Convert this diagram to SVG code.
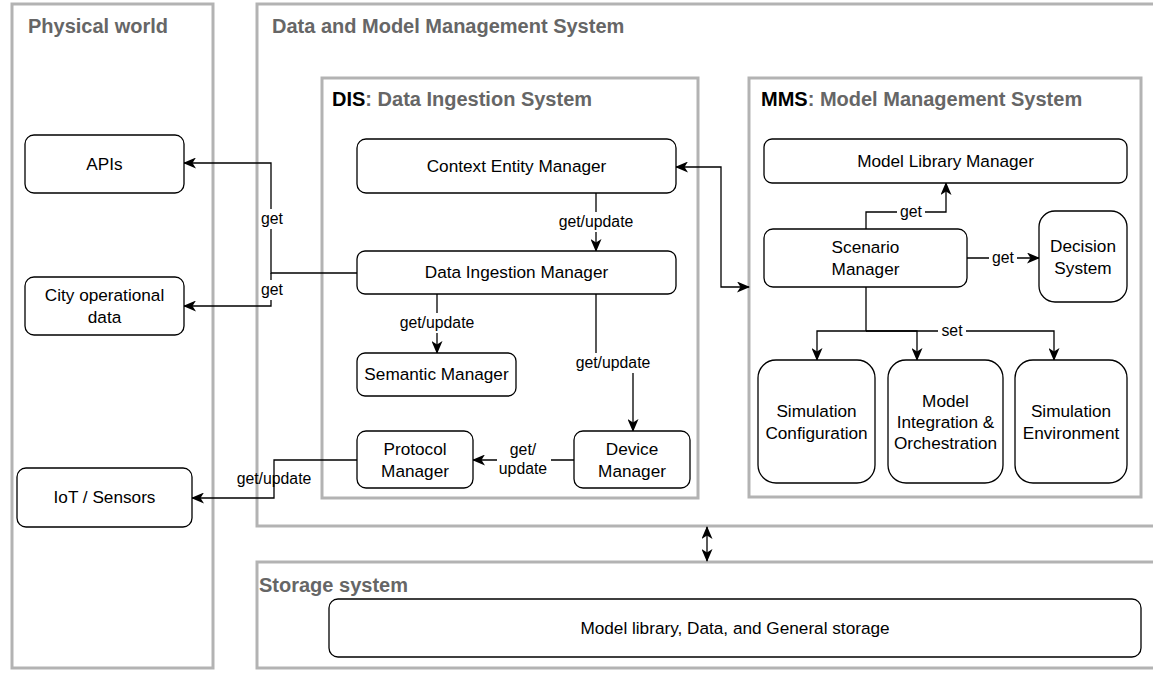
<svg xmlns="http://www.w3.org/2000/svg" width="1153" height="675" viewBox="0 0 1153 675">
<style>
.grp{fill:none;stroke:#B3B3B3;stroke-width:3}
.title{font-family:"Liberation Sans",Arial,sans-serif;font-size:20px;font-weight:bold;fill:#666666}
.node{fill:#fff;stroke:#000;stroke-width:1.3}
.t{font-family:"Liberation Sans",Arial,sans-serif;font-size:17.2px;fill:#000;text-anchor:middle}
.lbl{font-family:"Liberation Sans",Arial,sans-serif;font-size:15.8px;fill:#000;text-anchor:middle}
.lb{fill:#fff}
.edge{fill:none;stroke:#000;stroke-width:1.3}
</style>
<defs>
<marker id="arr" viewBox="0 0 13 11" refX="12" refY="5.5" markerWidth="13" markerHeight="11" markerUnits="userSpaceOnUse" orient="auto-start-reverse">
<path d="M0,0 L13,5.5 L0,11 L3.5,5.5 z" fill="#000"/>
</marker>
</defs>
<rect width="1153" height="675" fill="#fff"/>

<g id="group-physical">
<rect class="grp" x="12" y="4" width="201" height="664"/>
<text class="title" x="28" y="33">Physical world</text>
</g>
<g id="group-dmms">
<rect class="grp" x="257" y="4" width="900" height="522"/>
<text class="title" x="272" y="33">Data and Model Management System</text>
</g>
<g id="group-dis">
<rect class="grp" x="322" y="78" width="376" height="420"/>
<text class="title" x="332" y="106"><tspan fill="#000">DIS</tspan>: Data Ingestion System</text>
</g>
<g id="group-mms">
<rect class="grp" x="749" y="78" width="392" height="419"/>
<text class="title" x="761" y="106"><tspan fill="#000">MMS</tspan>: Model Management System</text>
</g>
<g id="group-storage">
<rect class="grp" x="257" y="562" width="900" height="106"/>
<text class="title" x="259" y="592">Storage system</text>
</g>

<g id="connectors">
<path class="edge" d="M357,273 H271 V163 H184" marker-end="url(#arr)"/>
<path class="edge" d="M271,273 V306 H184" marker-end="url(#arr)"/>
<path class="edge" d="M357,460 H274 V498 H192" marker-end="url(#arr)"/>
<path class="edge" d="M596,193 V251" marker-end="url(#arr)"/>
<path class="edge" d="M437,294 V353" marker-end="url(#arr)"/>
<path class="edge" d="M596,294 V363 H633 V431" marker-end="url(#arr)"/>
<path class="edge" d="M574,460 H473" marker-end="url(#arr)"/>
<path class="edge" d="M676,167 H721 V287 H749" marker-start="url(#arr)" marker-end="url(#arr)"/>
<path class="edge" d="M866,229 V212 H946 V183" marker-end="url(#arr)"/>
<path class="edge" d="M967,258 H1039" marker-end="url(#arr)"/>
<path class="edge" d="M866,287 V331 H817 V360" marker-end="url(#arr)"/>
<path class="edge" d="M866,331 H917 V360" marker-end="url(#arr)"/>
<path class="edge" d="M866,331 H1054 V360" marker-end="url(#arr)"/>
<path class="edge" d="M707,527 V561" stroke-width="1.8" marker-start="url(#arr)" marker-end="url(#arr)"/>

<rect class="lb" x="259" y="209" width="26" height="20"/>
<text class="lbl" x="272" y="224">get</text>
<rect class="lb" x="259" y="280" width="26" height="20"/>
<text class="lbl" x="272" y="295">get</text>
<text class="lbl" x="274" y="484">get/update</text>
<rect class="lb" x="556" y="212" width="80" height="20"/>
<text class="lbl" x="596" y="227">get/update</text>
<rect class="lb" x="397" y="313" width="80" height="20"/>
<text class="lbl" x="437" y="328">get/update</text>
<rect class="lb" x="573" y="353" width="80" height="20"/>
<text class="lbl" x="613" y="368">get/update</text>
<rect class="lb" x="497" y="440" width="54" height="40"/>
<text class="lbl" x="523" y="455">get/</text>
<text class="lbl" x="523" y="474">update</text>
<rect class="lb" x="897" y="203" width="28" height="18"/>
<text class="lbl" x="911" y="217">get</text>
<rect class="lb" x="989" y="249" width="28" height="18"/>
<text class="lbl" x="1003" y="263">get</text>
<rect class="lb" x="938" y="322" width="28" height="18"/>
<text class="lbl" x="952" y="336">set</text>
</g>

<g id="node-apis">
<rect class="node" x="25" y="135" width="159" height="58" rx="9"/>
<text class="t" x="104.5" y="170">APIs</text>
</g>
<g id="node-city">
<rect class="node" x="25" y="277" width="159" height="58" rx="9"/>
<text class="t" x="104.5" y="301">City operational</text>
<text class="t" x="104.5" y="323">data</text>
</g>
<g id="node-iot">
<rect class="node" x="17" y="468" width="175" height="59" rx="9"/>
<text class="t" x="104.5" y="503">IoT / Sensors</text>
</g>
<g id="node-cem">
<rect class="node" x="357" y="139" width="319" height="54" rx="9"/>
<text class="t" x="516.5" y="172">Context Entity Manager</text>
</g>
<g id="node-dim">
<rect class="node" x="357" y="251" width="319" height="43" rx="8"/>
<text class="t" x="516.5" y="278">Data Ingestion Manager</text>
</g>
<g id="node-semantic">
<rect class="node" x="357" y="353" width="159" height="43" rx="8"/>
<text class="t" x="436.5" y="380">Semantic Manager</text>
</g>
<g id="node-protocol">
<rect class="node" x="357" y="431" width="116" height="57" rx="9"/>
<text class="t" x="415" y="455">Protocol</text>
<text class="t" x="415" y="477">Manager</text>
</g>
<g id="node-device">
<rect class="node" x="574" y="431" width="116" height="57" rx="9"/>
<text class="t" x="632" y="455">Device</text>
<text class="t" x="632" y="477">Manager</text>
</g>
<g id="node-mlm">
<rect class="node" x="764" y="139" width="363" height="44" rx="8"/>
<text class="t" x="945.5" y="167">Model Library Manager</text>
</g>
<g id="node-scenario">
<rect class="node" x="764" y="229" width="203" height="58" rx="9"/>
<text class="t" x="865.5" y="253">Scenario</text>
<text class="t" x="865.5" y="275">Manager</text>
</g>
<g id="node-decision">
<rect class="node" x="1039" y="211" width="88" height="91" rx="16"/>
<text class="t" x="1083" y="252">Decision</text>
<text class="t" x="1083" y="274">System</text>
</g>
<g id="node-simconfig">
<rect class="node" x="758" y="360" width="117" height="123" rx="18"/>
<text class="t" x="816.5" y="417">Simulation</text>
<text class="t" x="816.5" y="439">Configuration</text>
</g>
<g id="node-mio">
<rect class="node" x="888" y="360" width="115" height="123" rx="18"/>
<text class="t" x="945.5" y="407">Model</text>
<text class="t" x="945.5" y="428">Integration &amp;</text>
<text class="t" x="945.5" y="449">Orchestration</text>
</g>
<g id="node-simenv">
<rect class="node" x="1015" y="360" width="112" height="123" rx="18"/>
<text class="t" x="1071" y="417">Simulation</text>
<text class="t" x="1071" y="439">Environment</text>
</g>
<g id="node-storage">
<rect class="node" x="329" y="599" width="812" height="58" rx="9"/>
<text class="t" x="735" y="634">Model library, Data, and General storage</text>
</g>
</svg>
